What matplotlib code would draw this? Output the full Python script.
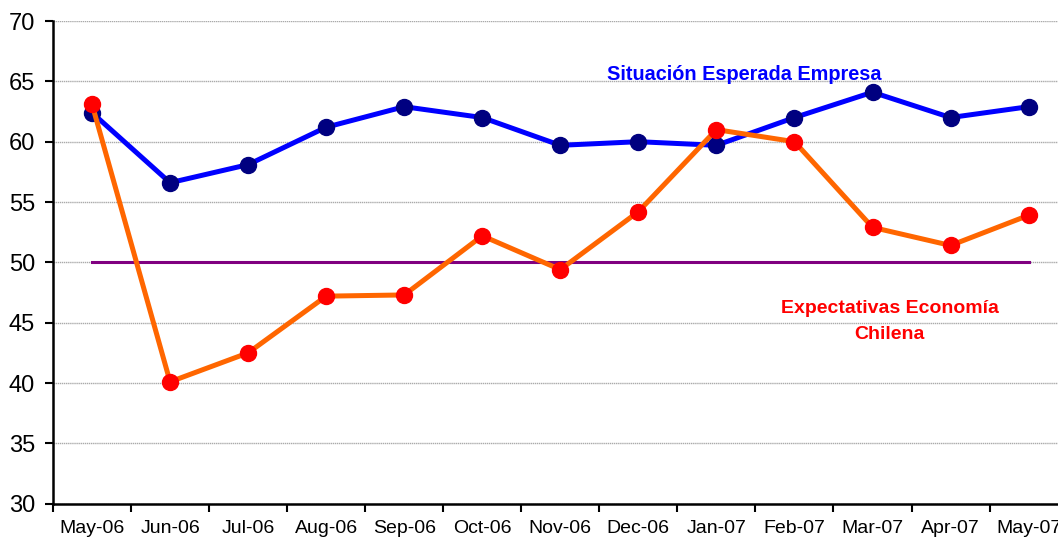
import matplotlib.pyplot as plt

# monthly survey indices
months = ["May-06", "Jun-06", "Jul-06", "Aug-06", "Sep-06", "Oct-06", "Nov-06",
          "Dec-06", "Jan-07", "Feb-07", "Mar-07", "Apr-07", "May-07"]
empresa = [62.4, 56.6, 58.1, 61.2, 62.9, 62.0, 59.7, 60.0, 59.7, 62.0, 64.1, 62.0, 62.9]
economia = [63.1, 40.1, 42.5, 47.2, 47.3, 52.2, 49.4, 54.2, 61.0, 60.0, 52.9, 51.4, 53.9]
neutral = [50] * len(months)

plt.rcParams['font.family'] = ['Liberation Sans', 'DejaVu Sans']

fig = plt.figure(figsize=(10.58, 5.39), dpi=100)
ax = fig.add_axes([0.0501, 0.0655, 0.959, 0.8955])

x = list(range(len(months)))
ax.plot(x, neutral, color='#800080', lw=2.2, zorder=2)
ax.plot(x, empresa, color='#0000ff', lw=3.6, marker='o', ms=11.5,
        mfc='#000080', mec='#000080', zorder=3)
ax.plot(x, economia, color='#ff6600', lw=3.6, marker='o', ms=11.5,
        mfc='#ff0000', mec='#ff0000', zorder=4)

ax.set_xlim(-0.5, len(months) - 0.5)
ax.set_ylim(30, 70)
ax.set_yticks(range(30, 71, 5))
ax.set_xticks(x)
ax.set_xticklabels(months)
ax.set_xticks([i - 0.5 for i in range(len(months) + 1)], minor=True)
ax.tick_params(axis='x', which='major', length=0, pad=12, labelsize=14)
ax.tick_params(axis='x', which='minor', length=6, width=1.5, direction='out')
ax.tick_params(axis='y', length=6, width=1.5, direction='out', labelsize=17, pad=7)

ax.grid(axis='y', color='#aaaaaa', lw=1, ls=(0, (1, 0.5)))
ax.set_axisbelow(True)
for s in ['top', 'right']:
    ax.spines[s].set_visible(False)
for s in ['left', 'bottom']:
    ax.spines[s].set_linewidth(1.8)

ax.text(8.36, 65.6, "Situación Esperada Empresa", color='#0000ff', fontsize=14.3,
        fontweight='bold', ha='center', va='center')
ax.text(10.22, 45.1, "Expectativas Economía\nChilena", color='#ff0000', fontsize=14,
        fontweight='bold', ha='center', va='center', linespacing=1.65)

fig.savefig("out.png", dpi=100)
